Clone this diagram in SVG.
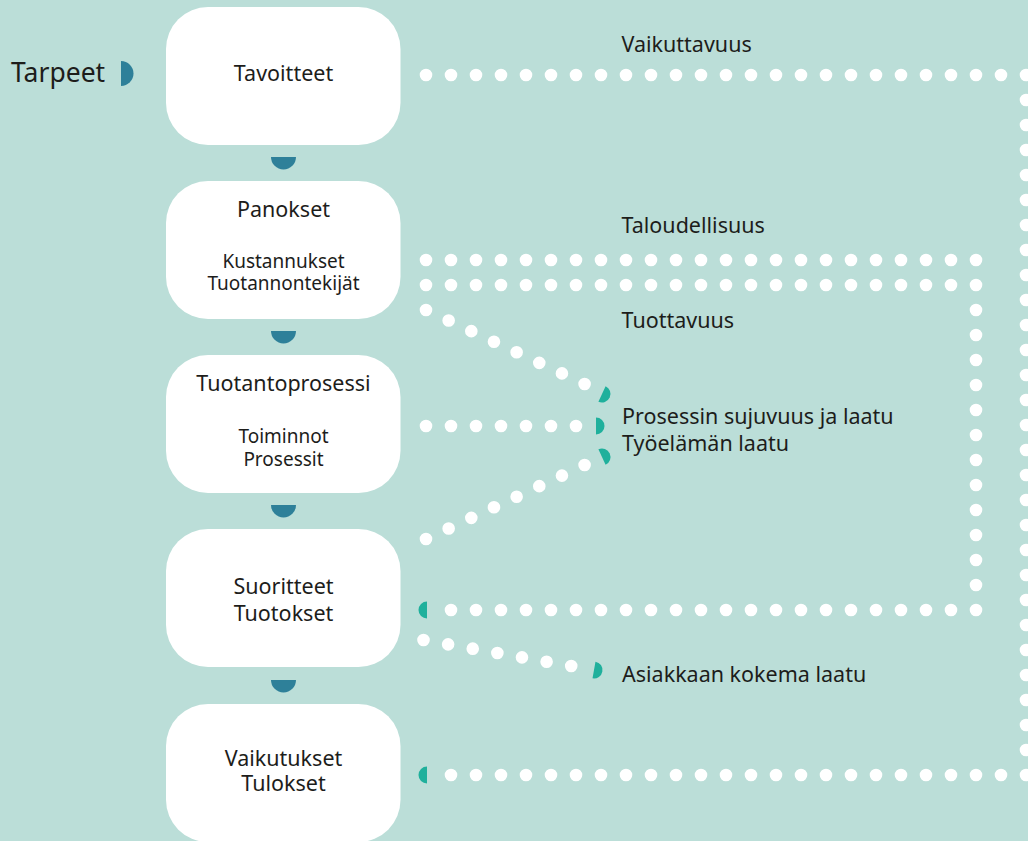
<svg xmlns="http://www.w3.org/2000/svg" width="1028" height="841" viewBox="0 0 1028 841">
  <style>
    .box { fill: #ffffff; }
    .t { font-family: "Noto Sans", "Liberation Sans", sans-serif; fill: #1d1d1b; }
    .h { font-size: 21.5px; text-anchor: middle; }
    .s { font-size: 19px; text-anchor: middle; }
    .lbl { font-size: 21.5px; }
    .dots { fill: none; stroke: #ffffff; stroke-width: 12.6; stroke-linecap: round; stroke-dasharray: 0 25; }
    .dark { fill: #2e8099; }
    .teal { fill: #1fb09c; }
  </style>
  <defs>
    <path id="half-big" d="M-12.5,0 A12.5,12.5 0 0 0 12.5,0 Z"/>
    <path id="half-small" d="M0,-8.5 A8.5,8.5 0 0 1 0,8.5 Z"/>
  </defs>
  <rect width="1028" height="841" fill="#bbded8"/>

  <g id="tarpeet">
    <text class="t" x="11" y="81.5" font-size="26.5">Tarpeet</text>
    <path class="dark" d="M121,61 A12.5,12.5 0 0 1 121,86 Z"/>
  </g>

  <g id="node-tavoitteet">
    <rect class="box" x="166" y="7" width="234.5" height="138" rx="42"/>
    <text class="t h" x="283.5" y="81">Tavoitteet</text>
  </g>
  <g id="node-panokset">
    <rect class="box" x="166" y="181" width="234.5" height="138" rx="42"/>
    <text class="t h" x="283.5" y="217">Panokset</text>
    <text class="t s" x="283.5" y="267.5">Kustannukset</text>
    <text class="t s" x="283.5" y="290">Tuotannontekijät</text>
  </g>
  <g id="node-tuotantoprosessi">
    <rect class="box" x="166" y="355" width="234.5" height="138" rx="42"/>
    <text class="t h" x="283.5" y="391">Tuotantoprosessi</text>
    <text class="t s" x="283.5" y="442.5">Toiminnot</text>
    <text class="t s" x="283.5" y="465.5">Prosessit</text>
  </g>
  <g id="node-suoritteet">
    <rect class="box" x="166" y="529" width="234.5" height="138" rx="42"/>
    <text class="t h" x="283.5" y="594">Suoritteet</text>
    <text class="t h" x="283.5" y="620.5">Tuotokset</text>
  </g>
  <g id="node-vaikutukset">
    <rect class="box" x="166" y="704" width="234.5" height="138" rx="42"/>
    <text class="t h" x="283.5" y="765.5">Vaikutukset</text>
    <text class="t h" x="283.5" y="791">Tulokset</text>
  </g>

  <g id="connectors">
    <use href="#half-big" class="dark" x="283.5" y="157"/>
    <use href="#half-big" class="dark" x="283.5" y="331"/>
    <use href="#half-big" class="dark" x="283.5" y="505"/>
    <use href="#half-big" class="dark" x="283.5" y="680"/>

    <path class="dots" d="M426,75 H1026 V775 H450.5"/>
    <path class="dots" d="M426,260 H976.5"/>
    <path class="dots" d="M426,285 H976 V610 H450.5"/>
    <path class="dots" d="M426,310 L585.1,384.2"/>
    <path class="dots" d="M426,426 H576.5"/>
    <path class="dots" d="M426,539 L585.1,464.8"/>
    <path class="dots" d="M423.5,640 L571.7,666.1"/>

    <use href="#half-small" class="teal" transform="translate(427,610) rotate(180)"/>
    <use href="#half-small" class="teal" transform="translate(427,775) rotate(180)"/>
    <use href="#half-small" class="teal" transform="translate(596,426)"/>
    <use href="#half-small" class="teal" transform="translate(602,394) rotate(25)"/>
    <use href="#half-small" class="teal" transform="translate(602,457) rotate(-25)"/>
    <use href="#half-small" class="teal" transform="translate(594,670) rotate(10)"/>
  </g>

  <g id="labels">
    <text class="t lbl" x="621.5" y="52">Vaikuttavuus</text>
    <text class="t lbl" x="621.5" y="233">Taloudellisuus</text>
    <text class="t lbl" x="621.5" y="328">Tuottavuus</text>
    <text class="t lbl" x="622" y="424">Prosessin sujuvuus ja laatu</text>
    <text class="t lbl" x="622" y="451">Työelämän laatu</text>
    <text class="t lbl" x="622" y="681.5">Asiakkaan kokema laatu</text>
  </g>
</svg>
